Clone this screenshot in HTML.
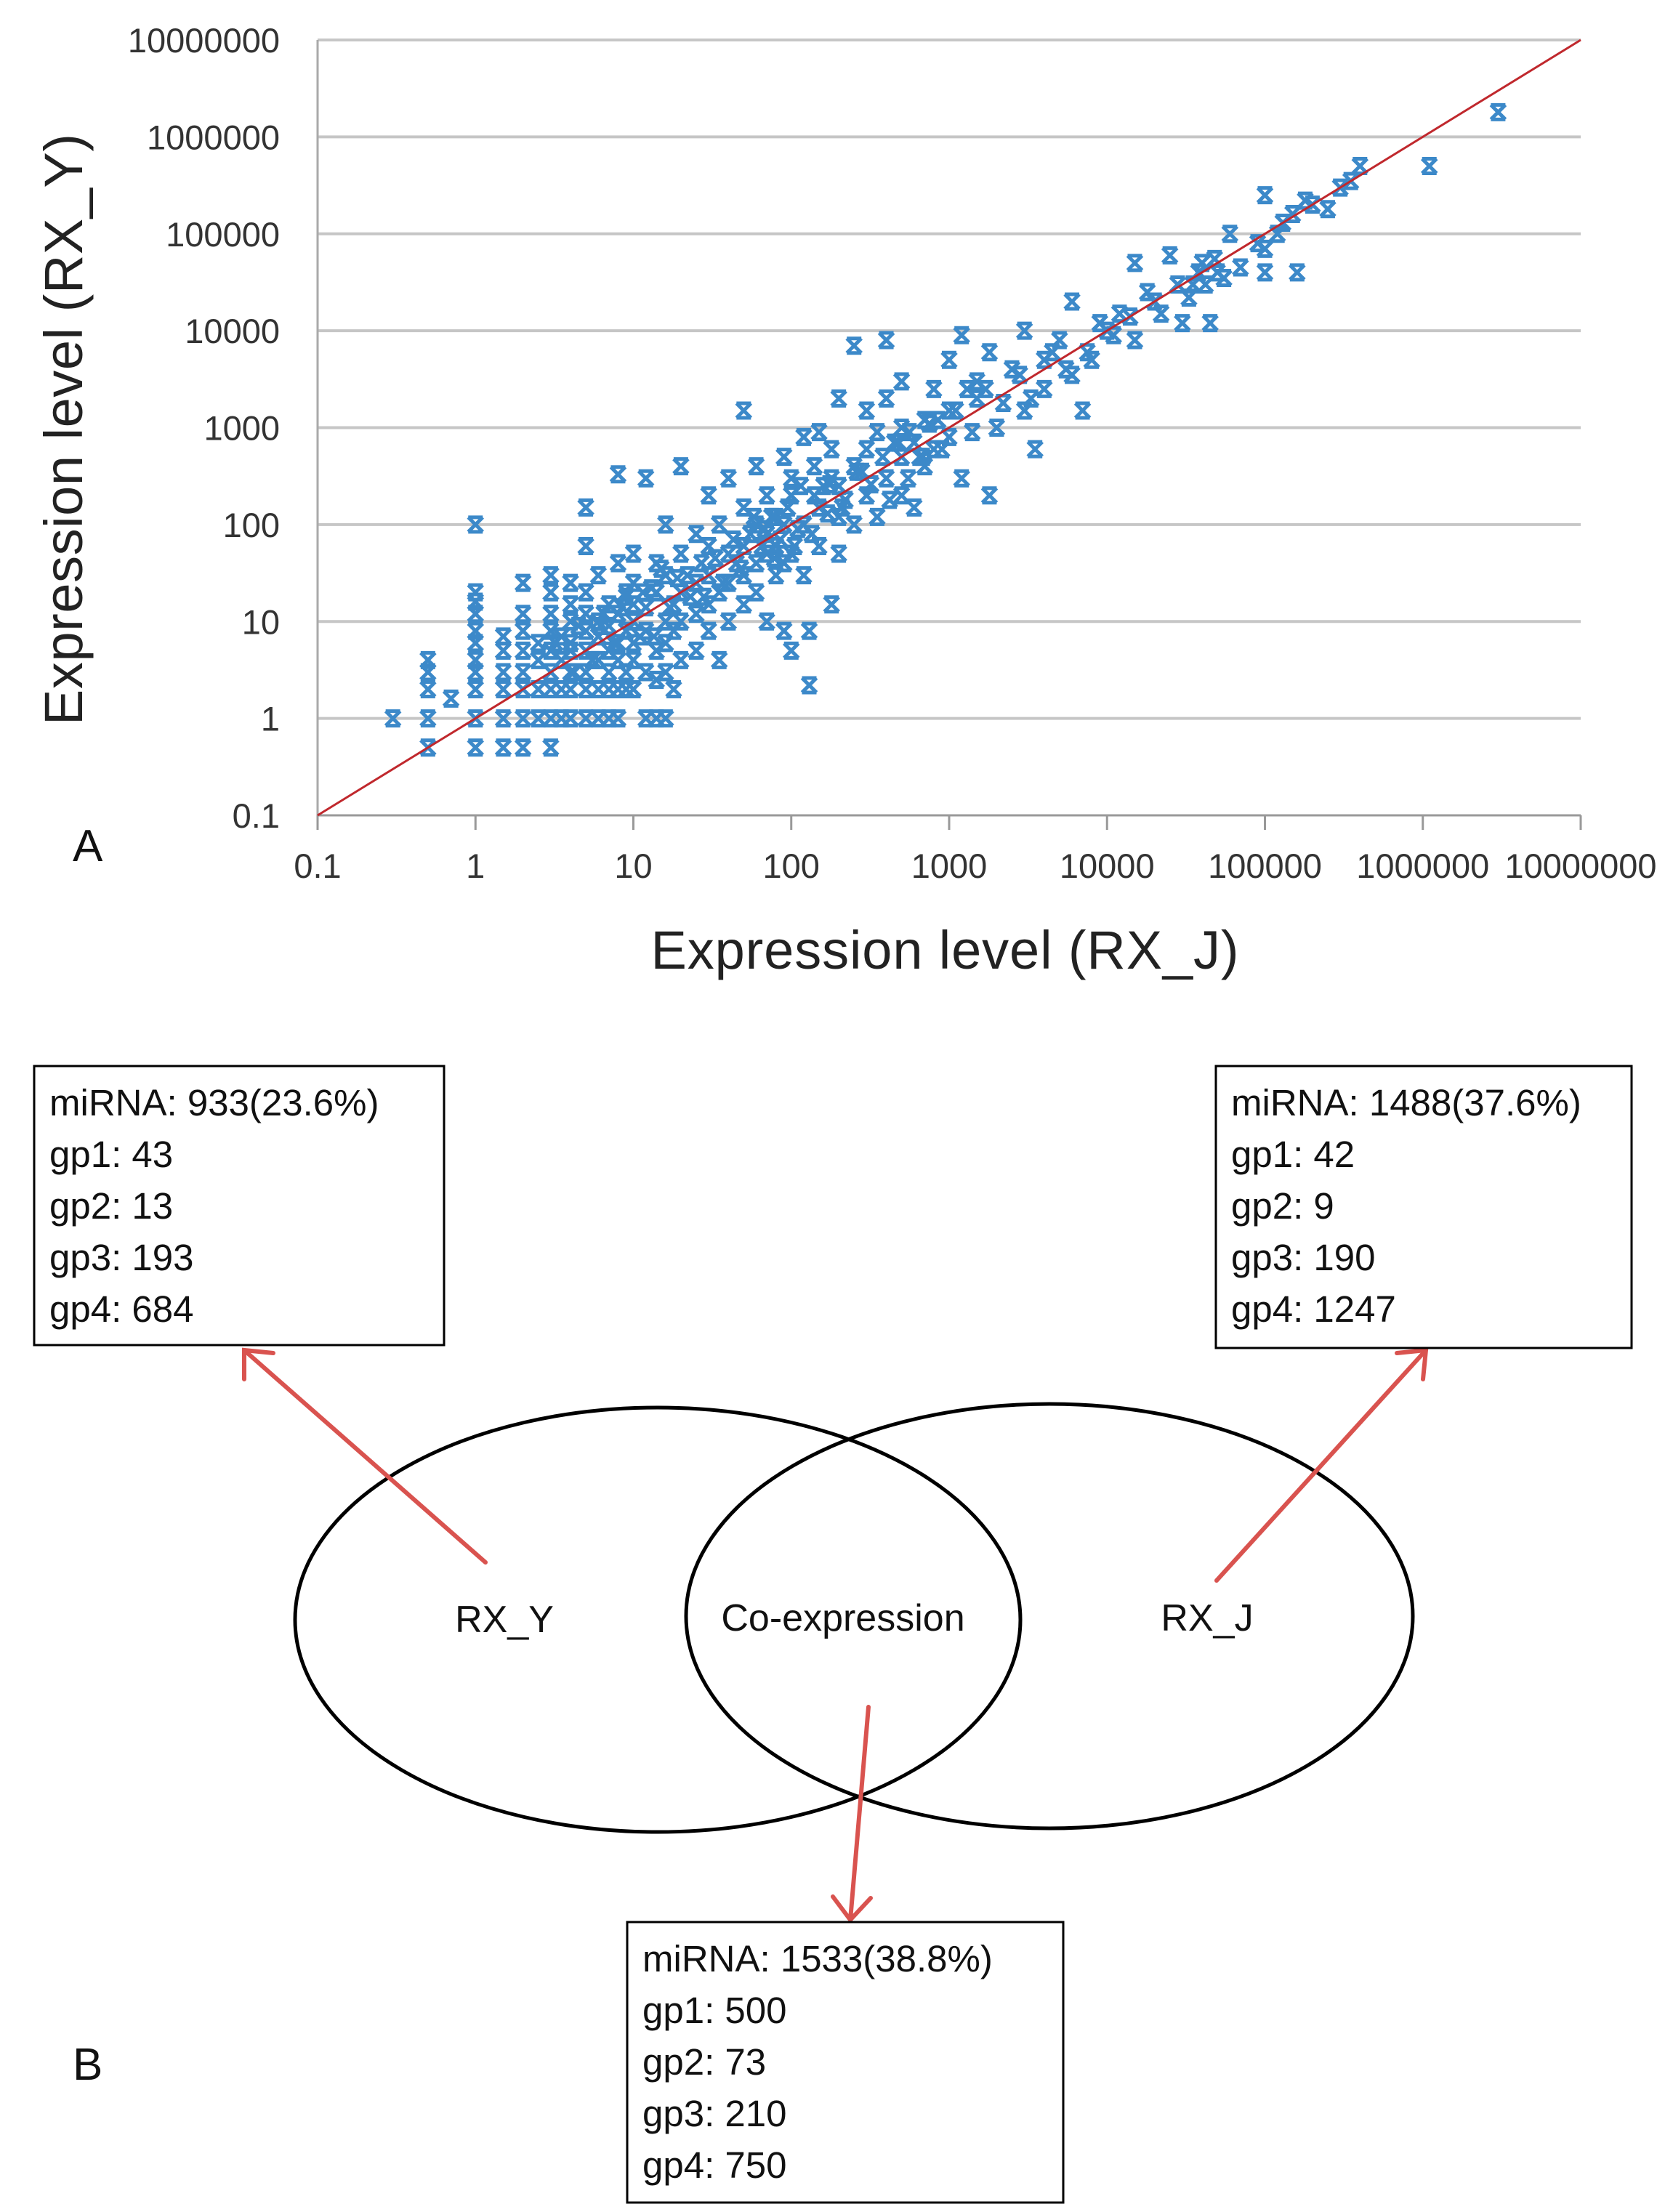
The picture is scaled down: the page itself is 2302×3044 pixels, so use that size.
<!DOCTYPE html>
<html><head><meta charset="utf-8"><style>
html,body{margin:0;padding:0;background:#fff;}
svg{display:block;}
text{font-family:"Liberation Sans",sans-serif;}
</style></head><body>
<svg id="fig" width="2302" height="3044" viewBox="0 0 2302 3044" xmlns="http://www.w3.org/2000/svg">
<g id="chartA"></g>
<text x="100" y="1185" font-size="62" fill="#111">A</text>
<text x="1300" y="1333" font-size="74" fill="#222" text-anchor="middle" textLength="809">Expression level (RX_J)</text>
<text transform="translate(113,591) rotate(-90)" font-size="74" fill="#222" text-anchor="middle" textLength="814">Expression level (RX_Y)</text>

<g fill="none" stroke="#000" stroke-width="5">
<ellipse cx="905" cy="2229" rx="499" ry="292"/>
<ellipse cx="1444" cy="2224" rx="500" ry="292"/>
</g>
<g font-size="52" fill="#111" text-anchor="middle">
<text x="694" y="2246">RX_Y</text>
<text x="1160" y="2244">Co-expression</text>
<text x="1661" y="2244">RX_J</text>
</g>
<g stroke="#d9534f" stroke-width="6" fill="none" stroke-linecap="round">
<line x1="668" y1="2150" x2="336" y2="1858"/>
<polyline points="336,1898 336,1858 376,1862"/>
<line x1="1674" y1="2175" x2="1962" y2="1858"/>
<polyline points="1922,1862 1962,1858 1958,1898"/>
<line x1="1195" y1="2349" x2="1170" y2="2642"/>
<polyline points="1146,2610 1170,2642 1198,2612"/>
</g>
<g font-size="51" fill="#111">
<rect x="47" y="1467" width="564" height="384" fill="none" stroke="#000" stroke-width="3"/>
<text x="68" y="1535">miRNA: 933(23.6%)</text>
<text x="68" y="1606">gp1: 43</text>
<text x="68" y="1677">gp2: 13</text>
<text x="68" y="1748">gp3: 193</text>
<text x="68" y="1819">gp4: 684</text>
<rect x="1673" y="1467" width="572" height="388" fill="none" stroke="#000" stroke-width="3"/>
<text x="1694" y="1535">miRNA: 1488(37.6%)</text>
<text x="1694" y="1606">gp1: 42</text>
<text x="1694" y="1677">gp2: 9</text>
<text x="1694" y="1748">gp3: 190</text>
<text x="1694" y="1819">gp4: 1247</text>
<rect x="863" y="2645" width="600" height="386" fill="none" stroke="#000" stroke-width="3"/>
<text x="884" y="2713">miRNA: 1533(38.8%)</text>
<text x="884" y="2784">gp1: 500</text>
<text x="884" y="2855">gp2: 73</text>
<text x="884" y="2926">gp3: 210</text>
<text x="884" y="2997">gp4: 750</text>
</g>
<text x="100" y="2862" font-size="62" fill="#111">B</text>
</svg>
<script>
const tickValues = [0.1,1,10,100,1000,10000,100000,1000000,10000000];
const tickLabels = ["0.1","1","10","100","1000","10000","100000","1000000","10000000"];
const xValues = [0.3,0.5,0.5,0.5,0.5,0.5,0.7,1,1,1,1,1,1,1,1,1,1,1,1.5,1.5,1.5,1.5,1.5,1.5,2,2,2,2,2,2,2,2,2.5,2.5,2.5,2.5,3,3,3,3,3,3,3,3,3,3.5,3.5,3.5,3.5,4,4,4,4,4,4,4,5,5,5,5,5,5,5,5,5,6,6,6,6,6,6,7,7,7,7,7,7,8,8,8,8,8,8,8,9,9,9,9,10,10,10,10,10,10,10,12,12,12,12,12,14,14,14,14,14,16,16,16,16,16,16,18,18,18,20,20,20,20,20,25,25,25,25,30,30,30,30,30,35,35,35,40,40,40,40,50,50,50,50,50,60,60,60,60,70,70,70,70,80,80,80,90,90,90,90,100,100,100,100,120,120,120,130,130,140,140,150,150,150,180,180,180,200,200,200,200,250,250,250,300,300,300,350,350,400,400,400,500,500,500,500,600,600,700,700,800,800,1000,1000,1000,1200,1200,1500,1500,1800,1800,2000,2500,3000,3000,3500,4000,4000,5000,6000,6000,7000,8000,10000,12000,15000,15000,20000,25000,30000,35000,40000,45000,50000,60000,100000,100000,100000,130000,160000,180000,300000,400000,1100000,3000000,
 4,4.5,5.5,6.5,7.5,9,11,13,15,17,22,28,33,45,55,65,75,85,110,160,170,220,280,320,450,550,650,750,900,1100,1400,1700,2200,2800,3300,4500,5500,7500,9000,11000,14000,18000,22000,28000,33000,38000,42000,48000,55000,70000,90000,120000,150000,200000,250000,350000,3.2,4.2,6.2,8.5,11.5,13.5,19,23,27,37,43,48,58,68,78,95,105,115,135,175,210,260,380,420,480,560,680,850,1300];
const yValues = [1,0.5,1,2,3,4,1.6,0.5,1,2,3,4,6,8,12,16,20,100,0.5,1,2,3,5,7,0.5,1,2,3,5,8,12,25,1,2,4,6,0.5,1,2,3,5,8,12,20,30,1,2,4,7,1,2,3,6,10,15,25,1,2,3,5,8,12,20,60,150,1,2,4,7,10,30,1,2,3,5,9,15,1,2,4,6,12,40,330,2,3,8,20,2,4,6,10,15,25,50,1,3,8,14,300,1,2.5,5,20,40,1,3,6,10,30,100,2,8,15,4,10,20,50,400,5,12,25,80,8,15,30,60,200,4,20,100,10,25,50,300,15,30,60,1500,150,20,40,100,400,10,50,80,200,30,60,120,8,40,100,500,5,50,200,300,30,100,800,2.2,8,200,400,60,150,900,15,300,600,50,120,250,2000,100,400,7000,200,600,1500,120,900,8000,300,2000,500,200,1000,3000,150,700,1200,400,2500,600,5000,1500,800,300,9000,2000,3000,200,6000,1000,4000,1500,10000,600,5000,2500,8000,20000,3500,1500,5000,10000,15000,50000,8000,20000,60000,12000,30000,50000,12000,40000,100000,250000,40000,70000,130000,40000,220000,300000,500000,500000,1800000,
 5,9,4,12,6,18,7,22,35,14,30,18,45,40,80,60,120,70,90,250,130,180,350,260,700,300,500,1100,600,1500,900,2500,1800,3500,2000,6000,4000,6000,12000,9000,14000,25000,15000,30000,22000,40000,30000,55000,35000,45000,80000,100000,160000,200000,180000,350000,6,3,9,14,20,7,28,18,40,25,70,35,120,90,45,150,60,250,80,260,150,350,500,180,700,900,500,1200,2500];

const NS='http://www.w3.org/2000/svg';
const L=437,R=2175,T=55,B=1122;
function xs(v){return L+(Math.log10(v)+1)*(R-L)/8;}
function ys(v){return B-(Math.log10(v)+1)*(B-T)/8;}
const g=document.getElementById('chartA');
function mk(tag,attrs){const e=document.createElementNS(NS,tag);for(const k in attrs)e.setAttribute(k,attrs[k]);g.appendChild(e);return e;}

tickValues.forEach((v,i)=>{
  if(i>0){
    const gl=mk('line',{x1:L,x2:R,y1:ys(v),y2:ys(v),stroke:'#c6c6c6','stroke-width':4});
    
    
  }
  const yl=mk('text',{x:L-52,y:ys(v)+17,'font-size':47,fill:'#333','text-anchor':'end'});
  yl.textContent=tickLabels[i];
  
  
  const tk=mk('line',{x1:xs(v),x2:xs(v),y1:B,y2:B+20,stroke:'#999','stroke-width':3});
  
  
  const xl=mk('text',{x:xs(v),y:B+86,'font-size':47,fill:'#333','text-anchor':'middle'});
  xl.textContent=tickLabels[i];
  
  
});
const ax=mk('line',{x1:L,x2:R,y1:B,y2:B,stroke:'#999','stroke-width':3});


const ay=mk('line',{x1:L,x2:L,y1:T,y2:B,stroke:'#aaa','stroke-width':3});



for(let i=0;i<xValues.length;i++){
  const cx=xs(xValues[i]),cy=ys(yValues[i]),s=10;
  const p=mk('path',{d:`M${cx-s},${cy-s}L${cx+s},${cy+s}M${cx+s},${cy-s}L${cx-s},${cy+s}M${cx-s},${cy-s}H${cx+s}M${cx-s},${cy+s}H${cx+s}`,stroke:'#3c89c9','stroke-width':5,fill:'none'});
  
  
}
const rl=mk('line',{x1:xs(0.1),y1:ys(0.1),x2:xs(10000000),y2:ys(10000000),stroke:'#c0282d','stroke-width':3});


</script>
</body></html>
